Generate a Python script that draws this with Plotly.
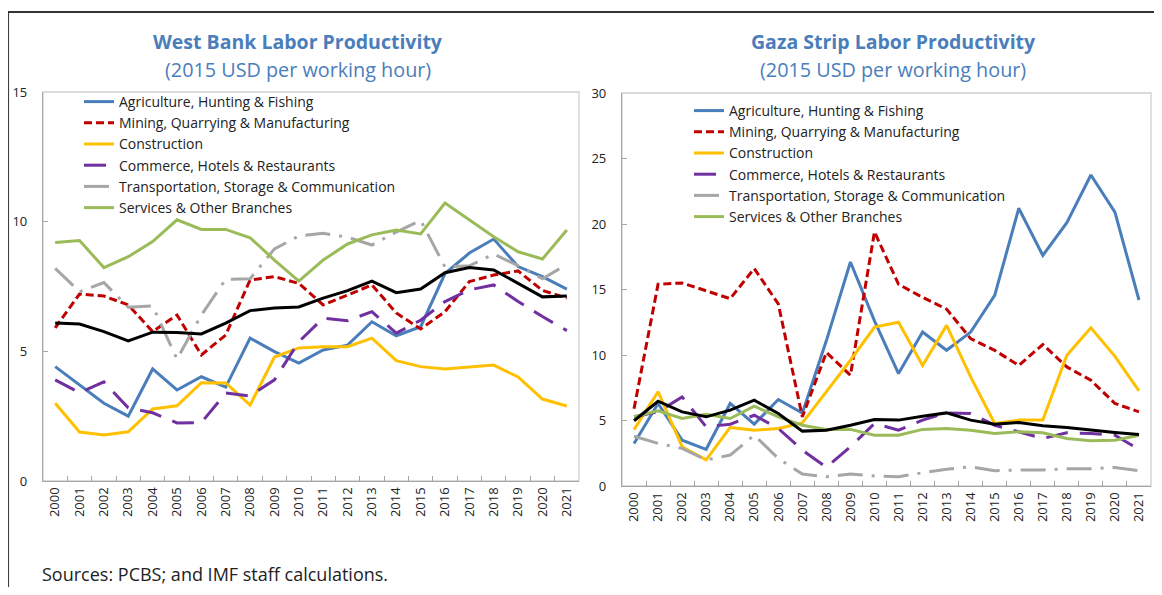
#Productividad laboral: Cisjordania y Gaza
import plotly.graph_objects as go

years = [str(y) for y in range(2000, 2022)]
sectors = ["Agriculture, Hunting & Fishing",
           "Mining, Quarrying & Manufacturing",
           "Construction",
           "Commerce, Hotels & Restaurants",
           "Transportation, Storage & Communication",
           "Services & Other Branches"]

#West Bank (2015 USD por hora)
wb_agri = [4.41, 3.70, 3.00, 2.50, 4.32, 3.51, 4.02, 3.62, 5.51, 4.99, 4.55, 5.05, 5.24, 6.14, 5.60, 5.95, 8.00, 8.79, 9.33, 8.27, 7.88, 7.40]
wb_mining = [5.90, 7.21, 7.13, 6.79, 5.76, 6.40, 4.86, 5.63, 7.75, 7.88, 7.62, 6.79, 7.17, 7.56, 6.48, 5.86, 6.53, 7.69, 7.94, 8.10, 7.35, 7.05]
wb_const = [3.00, 1.89, 1.77, 1.90, 2.78, 2.90, 3.79, 3.78, 2.93, 4.78, 5.13, 5.18, 5.18, 5.51, 4.64, 4.41, 4.32, 4.40, 4.47, 4.01, 3.16, 2.89]
wb_comm = [3.90, 3.40, 3.82, 2.82, 2.63, 2.24, 2.25, 3.39, 3.28, 3.90, 5.37, 6.28, 6.18, 6.53, 5.70, 6.20, 6.92, 7.37, 7.56, 6.92, 6.34, 5.80]
wb_trans = [8.20, 7.30, 7.65, 6.70, 6.75, 4.70, 6.40, 7.78, 7.80, 8.95, 9.45, 9.55, 9.40, 9.10, 9.60, 10.05, 8.25, 8.30, 8.75, 8.30, 7.80, 8.35]
wb_serv = [9.20, 9.27, 8.23, 8.65, 9.23, 10.07, 9.70, 9.70, 9.38, 8.52, 7.71, 8.52, 9.14, 9.49, 9.68, 9.53, 10.72, 10.07, 9.42, 8.84, 8.56, 9.68]
wb_total = [6.09, 6.05, 5.76, 5.40, 5.74, 5.73, 5.67, 6.09, 6.57, 6.67, 6.71, 7.05, 7.34, 7.71, 7.26, 7.40, 8.03, 8.23, 8.14, 7.63, 7.10, 7.13]

#Gaza Strip
gz_agri = [3.25, 6.30, 3.50, 2.80, 6.30, 4.72, 6.60, 5.56, 11.10, 17.10, 12.60, 8.58, 11.75, 10.36, 11.75, 14.55, 21.20, 17.60, 20.10, 23.74, 20.90, 14.20]
gz_mining = [5.90, 15.40, 15.50, 14.90, 14.30, 16.60, 13.90, 5.28, 10.20, 8.45, 19.40, 15.40, 14.40, 13.50, 11.25, 10.36, 9.20, 10.80, 9.09, 8.07, 6.30, 5.66]
gz_const = [4.30, 7.20, 3.00, 2.00, 4.47, 4.26, 4.39, 4.82, 7.20, 9.60, 12.13, 12.50, 9.20, 12.26, 8.33, 4.77, 5.03, 5.03, 9.98, 12.08, 9.90, 7.26]
gz_comm = [5.28, 5.66, 6.80, 4.52, 4.72, 5.40, 4.39, 2.74, 1.42, 3.00, 4.77, 4.26, 5.03, 5.58, 5.53, 4.64, 4.14, 3.63, 4.06, 4.01, 3.88, 2.79]
gz_trans = [3.80, 3.25, 2.87, 1.98, 2.36, 3.88, 2.10, 0.91, 0.71, 0.91, 0.76, 0.71, 1.01, 1.27, 1.47, 1.17, 1.22, 1.22, 1.32, 1.32, 1.42, 1.17]
gz_serv = [5.28, 5.74, 5.15, 5.48, 5.15, 6.09, 5.28, 4.64, 4.32, 4.32, 3.88, 3.88, 4.32, 4.39, 4.26, 4.01, 4.14, 4.06, 3.63, 3.45, 3.50, 3.88]
gz_total = [4.98, 6.47, 5.66, 5.28, 5.79, 6.55, 5.53, 4.19, 4.26, 4.64, 5.08, 5.03, 5.33, 5.58, 5.03, 4.72, 4.85, 4.60, 4.47, 4.26, 4.09, 3.94]

colores = ["#4A7EBB", "#C00000", "#FFC000", "#7030A0", "#A6A6A6", "#9BBB59"]
guiones = ["solid", "8px,4px", "solid", "22px,12px", "25px,9px,3px,9px", "solid"]
fuente = "'Open Sans', Lato, sans-serif"
azul_titulo = "#4A7EBB"

#La página deja 8px de margen: la figura ocupa el resto de la ventana
W, H, OFF = 1146, 579, 8
def px(x):
    return (x - OFF) / W
def py(y):
    return 1 - (y - OFF) / H

#Función para agregar las series de un panel
def agregar_panel(fig, series, total, xref, yref, leyenda):
    for nombre, valores, color, dash in zip(sectors, series, colores, guiones):
        fig.add_trace(go.Scatter(x=years, y=valores, name=nombre, mode="lines",
                                 line=dict(color=color, width=3, dash=dash),
                                 xaxis=xref, yaxis=yref, legend=leyenda))
    fig.add_trace(go.Scatter(x=years, y=total, name="Total", mode="lines",
                             line=dict(color="black", width=3),
                             xaxis=xref, yaxis=yref, showlegend=False))

fig = go.Figure()
agregar_panel(fig, [wb_agri, wb_mining, wb_const, wb_comm, wb_trans, wb_serv], wb_total, "x", "y", "legend")
agregar_panel(fig, [gz_agri, gz_mining, gz_const, gz_comm, gz_trans, gz_serv], gz_total, "x2", "y2", "legend2")

eje_x = dict(type="category", tickson="boundaries", ticks="inside", ticklen=5, tickcolor="#A6A6A6",
             tickangle=-90, showline=True, linecolor="#A6A6A6", linewidth=1.3, showgrid=False,
             zeroline=False, range=[-0.5, 21.5], automargin=False,
             tickfont=dict(size=13, color="#222222", family=fuente))
eje_y = dict(ticks="inside", ticklen=5, tickcolor="#A6A6A6", dtick=5, showline=True, linecolor="#A6A6A6",
             linewidth=1.3, showgrid=False, zeroline=False, ticklabelstandoff=12, automargin=False,
             tickfont=dict(size=13, color="#222222", family=fuente))

leyenda = dict(bgcolor="rgba(0,0,0,0)", font=dict(size=14, color="#222222", family=fuente),
               xanchor="left", yanchor="top", tracegroupgap=0)

fig.update_layout(
    width=W, height=H, autosize=False,
    paper_bgcolor="white", plot_bgcolor="white",
    margin=dict(l=0, r=0, t=0, b=0, autoexpand=False),
    font=dict(family=fuente),
    xaxis=dict(eje_x, domain=[px(43), px(579)], anchor="y"),
    yaxis=dict(eje_y, domain=[py(481), py(92)], range=[0, 15], anchor="x"),
    xaxis2=dict(eje_x, domain=[px(622), px(1151)], anchor="y2"),
    yaxis2=dict(eje_y, domain=[py(486), py(93)], range=[0, 30], anchor="x2"),
    legend=dict(leyenda, x=px(79), y=py(86)),
    legend2=dict(leyenda, x=px(689), y=py(95)),
)

#Marcos de los paneles y recuadro exterior
for xr, yr in [("x", "y"), ("x2", "y2")]:
    fig.add_shape(type="rect", xref=xr + " domain", yref=yr + " domain", x0=0, x1=1, y0=0, y1=1,
                  line=dict(color="#D0D0D0", width=1.3), layer="below")
fig.add_shape(type="line", xref="paper", yref="paper", x0=0, x1=1, y0=py(12), y1=py(12),
              line=dict(color="#333333", width=2))
fig.add_shape(type="line", xref="paper", yref="paper", x0=0.0005, x1=0.0005, y0=0, y1=py(12),
              line=dict(color="#333333", width=1))

titulos = [("West Bank Labor Productivity", 298), ("Gaza Strip Labor Productivity", 893)]
for texto, xpos in titulos:
    fig.add_annotation(text="<b>" + texto + "</b>", x=px(xpos), y=py(42), xref="paper", yref="paper",
                       xanchor="center", yanchor="middle", showarrow=False,
                       font=dict(size=19.5, color=azul_titulo, family=fuente))
    fig.add_annotation(text="(2015 USD per working hour)", x=px(xpos), y=py(70), xref="paper", yref="paper",
                       xanchor="center", yanchor="middle", showarrow=False,
                       font=dict(size=19.8, color=azul_titulo, family=fuente))

fig.add_annotation(text="Sources: PCBS; and IMF staff calculations.", x=px(40), y=py(574),
                   xref="paper", yref="paper", xanchor="left", yanchor="middle", showarrow=False,
                   font=dict(size=18, color="#222222", family=fuente))

fig.write_html("out.html", config={"displayModeBar": False})
